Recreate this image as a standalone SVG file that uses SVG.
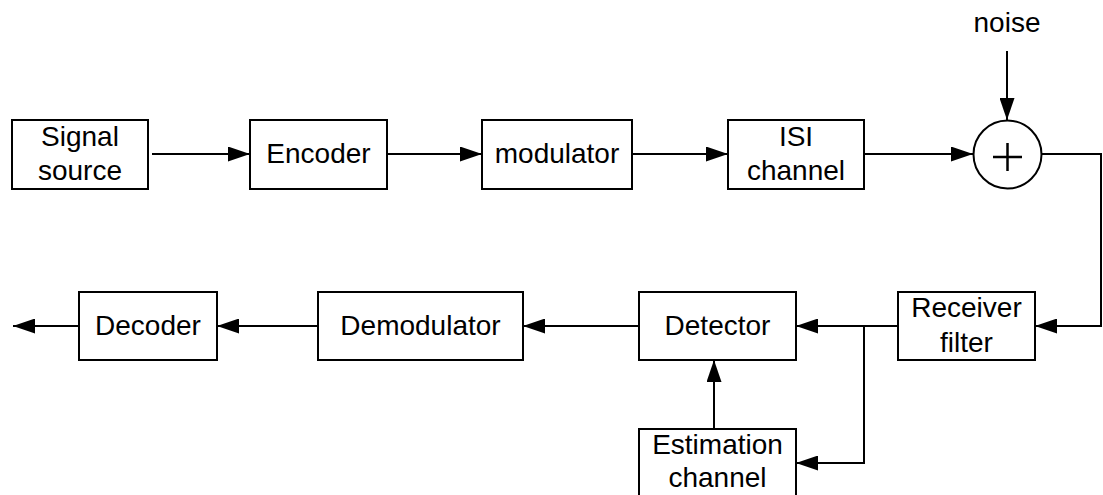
<svg xmlns="http://www.w3.org/2000/svg" width="1103" height="495" viewBox="0 0 1103 495">
<style>
.box{fill:#fff;stroke:#000;stroke-width:2}
.lbl{font-family:"Liberation Sans",Arial,sans-serif;font-size:28px;fill:#000;text-anchor:middle}
.ln{fill:none;stroke:#000;stroke-width:2}
.arr{marker-end:url(#ah)}
</style>
<defs>
<marker id="ah" markerUnits="userSpaceOnUse" markerWidth="22" markerHeight="15" refX="22" refY="7.5" orient="auto">
<path d="M0,0 L22,7.5 L0,15 z" fill="#000"/>
</marker>
</defs>
<rect width="1103" height="495" fill="#fff"/>
<g id="connectors">
<path class="ln arr" d="M152,154 H250"/>
<path class="ln arr" d="M387,154 H482"/>
<path class="ln arr" d="M632,154 H728"/>
<path class="ln arr" d="M864,154 H973"/>
<path class="ln arr" d="M1007,51 V120"/>
<path class="ln arr" d="M1041,154 H1101 V326 H1035"/>
<path class="ln arr" d="M898,326 H796"/>
<path class="ln arr" d="M864,326 V463 H796"/>
<path class="ln arr" d="M714,429 V360"/>
<path class="ln arr" d="M639,326 H523"/>
<path class="ln arr" d="M318,326 H217"/>
<path class="ln arr" d="M79,326 H13"/>
</g>
<g id="signal-source">
<rect class="box" x="12" y="120" width="136" height="69"/>
<text class="lbl" x="80" y="146">Signal</text>
<text class="lbl" x="80" y="180">source</text>
</g>
<g id="encoder">
<rect class="box" x="250" y="120" width="137" height="69"/>
<text class="lbl" x="318.5" y="163">Encoder</text>
</g>
<g id="modulator">
<rect class="box" x="482" y="120" width="150" height="69"/>
<text class="lbl" x="557" y="163">modulator</text>
</g>
<g id="isi-channel">
<rect class="box" x="728" y="120" width="136" height="69"/>
<text class="lbl" x="796" y="146">ISI</text>
<text class="lbl" x="796" y="180">channel</text>
</g>
<g id="adder">
<circle cx="1007.5" cy="154.5" r="34" fill="#fff" stroke="#000" stroke-width="2"/>
<path d="M993,157 H1022 M1007.5,143 V171" stroke="#000" stroke-width="2.5" fill="none"/>
</g>
<g id="noise">
<text class="lbl" x="1007" y="32">noise</text>
</g>
<g id="receiver-filter">
<rect class="box" x="898" y="292" width="137" height="68"/>
<text class="lbl" x="966.5" y="317">Receiver</text>
<text class="lbl" x="966.5" y="352">filter</text>
</g>
<g id="detector">
<rect class="box" x="639" y="292" width="157" height="68"/>
<text class="lbl" x="717.5" y="335">Detector</text>
</g>
<g id="estimation-channel">
<rect class="box" x="639" y="429" width="157" height="80"/>
<text class="lbl" x="717.5" y="454">Estimation</text>
<text class="lbl" x="717.5" y="487">channel</text>
</g>
<g id="demodulator">
<rect class="box" x="318" y="292" width="205" height="68"/>
<text class="lbl" x="420.5" y="335">Demodulator</text>
</g>
<g id="decoder">
<rect class="box" x="79" y="292" width="138" height="68"/>
<text class="lbl" x="148" y="335">Decoder</text>
</g>
</svg>
